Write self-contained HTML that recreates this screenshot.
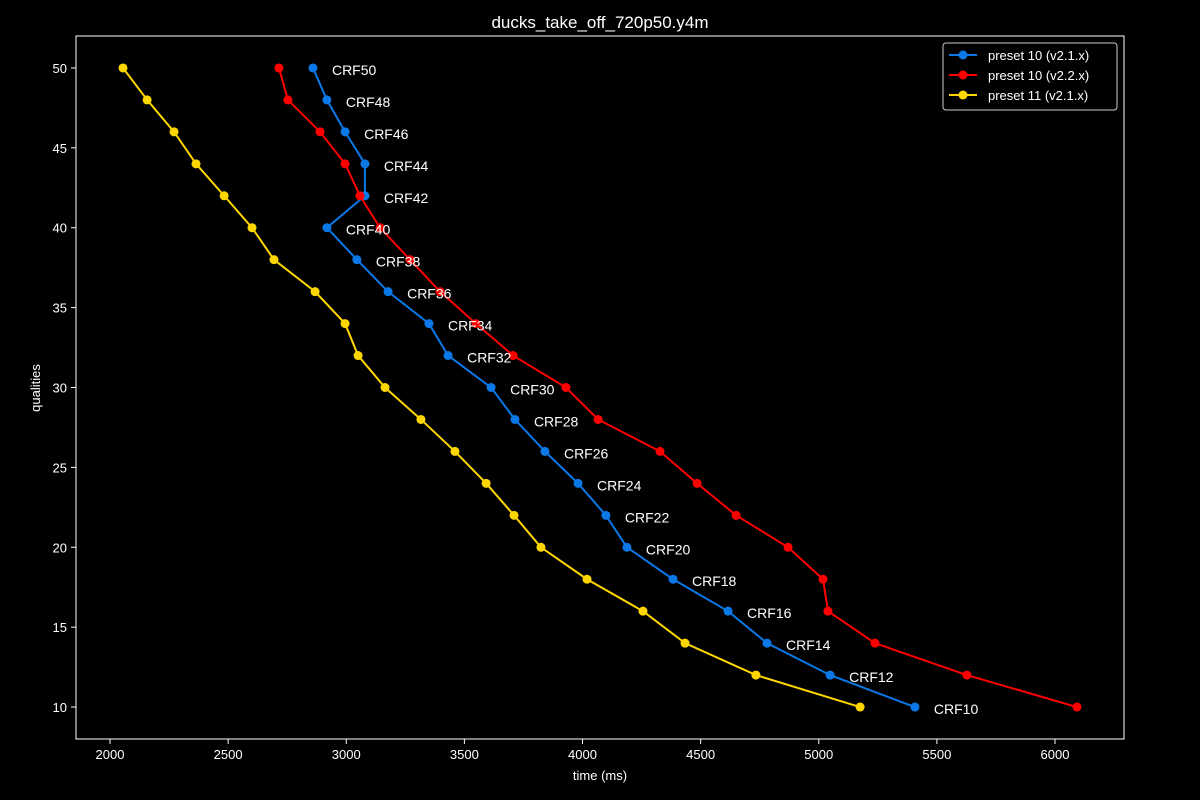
<!DOCTYPE html>
<html><head><meta charset="utf-8"><style>
html,body{margin:0;padding:0;background:#000;width:1200px;height:800px;overflow:hidden}
svg text{font-family:"Liberation Sans","DejaVu Sans",sans-serif;fill:#fff}
</style></head><body>
<svg id="chart" width="1200" height="800"></svg>
<script>
const qualities=[50,48,46,44,42,40,38,36,34,32,30,28,26,24,22,20,18,16,14,12,10];
const crfLabels=["CRF50","CRF48","CRF46","CRF44","CRF42","CRF40","CRF38","CRF36","CRF34","CRF32","CRF30","CRF28","CRF26","CRF24","CRF22","CRF20","CRF18","CRF16","CRF14","CRF12","CRF10"];
const blueTimes=[2859,2918,2995,3079,3079,2918,3045,3177,3350,3431,3613,3714,3841,3981,4099,4188,4383,4616,4781,5048,5407];
const redTimes=[2715,2753,2889,2995,3058,3143,3270,3397,3549,3706,3930,4066,4328,4485,4650,4870,5018,5039,5238,5627,6093];
const yellowTimes=[2055,2157,2271,2364,2483,2601,2694,2868,2995,3050,3164,3316,3460,3592,3710,3824,4019,4256,4434,4734,5175];
const xTicks=[2000,2500,3000,3500,4000,4500,5000,5500,6000];
const yTicks=[10,15,20,25,30,35,40,45,50];
const seriesNames=["preset 10 (v2.1.x)","preset 10 (v2.2.x)","preset 11 (v2.1.x)"];

const L=76,R=1124,T=36,B=739;
const xMin=1856,xMax=6292,yMin=8.0,yMax=52.0;
const X=v=>L+(v-xMin)/(xMax-xMin)*(R-L);
const Y=v=>B-(v-yMin)/(yMax-yMin)*(B-T);
const svg=document.getElementById('chart');
const NS='http://www.w3.org/2000/svg';
function mk(tag,attrs,parent){const e=document.createElementNS(NS,tag);for(const k in attrs)e.setAttribute(k,attrs[k]);(parent||svg).appendChild(e);return e;}

const title=mk('text',{x:600,y:28,'text-anchor':'middle','font-size':17});
title.textContent='ducks_take_off_720p50.y4m';



const frame=mk('rect',{x:L,y:T,width:R-L,height:B-T,fill:'none',stroke:'#fff','stroke-width':1});



xTicks.forEach(v=>{
  const g=mk('g',{});
  
  
  mk('line',{x1:X(v),x2:X(v),y1:B,y2:B+5,stroke:'#fff'},g);
  const t=mk('text',{x:X(v),y:B+20,'text-anchor':'middle','font-size':13},g);t.textContent=v;
});
yTicks.forEach(v=>{
  const g=mk('g',{});
  
  
  mk('line',{x1:L-5,x2:L,y1:Y(v),y2:Y(v),stroke:'#fff'},g);
  const t=mk('text',{x:L-9,y:Y(v)+5,'text-anchor':'end','font-size':13},g);t.textContent=v;
});
const xt=mk('text',{x:600,y:780,'text-anchor':'middle','font-size':13});xt.textContent='time (ms)';


const yt=mk('text',{x:40,y:388,'text-anchor':'middle','font-size':13,transform:'rotate(-90 40 388)'});yt.textContent='qualities';



const colors=['#0a78e6','#ff0000','#ffd700'];
const allTimes=[blueTimes,redTimes,yellowTimes];
const seriesKeys=['series-v21-preset10','series-v22-preset10','series-v21-preset11'];
[0,1,2].forEach(i=>{
  const g=mk('g',{});
  
  
  const pts=allTimes[i].map((t,j)=>X(t)+','+Y(qualities[j])).join(' ');
  mk('polyline',{points:pts,fill:'none',stroke:colors[i],'stroke-width':2},g);
  allTimes[i].forEach((t,j)=>{
    const c=mk('circle',{cx:X(t),cy:Y(qualities[j]),r:4.5,fill:colors[i]},g);
    
    
  });
});
blueTimes.forEach((t,j)=>{
  const lb=mk('text',{x:X(t)+19,y:Y(qualities[j])+7,'font-size':14});
  lb.textContent=crfLabels[j];
  
  
});

const lg=mk('g',{});


mk('rect',{x:943,y:43,width:174,height:67,rx:3,fill:'#000',stroke:'#ccc'},lg);
seriesNames.forEach((n,i)=>{
  const y=55+i*20;
  const e=mk('g',{},lg);
  
  
  mk('line',{x1:949,x2:977,y1:y,y2:y,stroke:colors[i],'stroke-width':2},e);
  mk('circle',{cx:963,cy:y,r:4.5,fill:colors[i]},e);
  const t=mk('text',{x:988,y:y+5,'font-size':13},e);t.textContent=n;
});
</script>
</body></html>
